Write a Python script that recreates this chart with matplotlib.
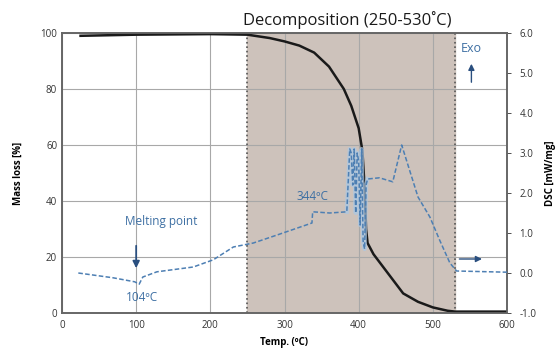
import numpy as np
import matplotlib.pyplot as plt

plt.rcParams['font.family'] = ['Open Sans', 'DejaVu Sans']

# TGA mass loss curve (left axis)
temp_mass = [25, 100, 200, 250, 280, 300, 320, 340, 360, 380, 390, 400, 405,
             408, 410, 412, 420, 440, 460, 480, 500, 520, 530, 600]
mass = [99.0, 99.4, 99.6, 99.4, 98.2, 97.0, 95.5, 93.0, 88.0, 80.0, 74.0, 66.0,
        58.0, 45.0, 30.0, 25.0, 21.0, 14.0, 7.0, 4.0, 2.0, 0.8, 0.5, 0.5]

# DSC heat flow curve (right axis)
temp_dsc = [22, 69, 98, 104, 109, 128, 177, 204, 231, 258, 290, 337, 338, 361,
            384, 388, 390, 392, 394, 396, 398, 400, 402, 404, 406, 408, 410, 412,
            428, 446, 458, 480, 496, 509, 523, 532, 600]
dsc = [0.0, -0.12, -0.22, -0.28, -0.1, 0.03, 0.15, 0.33, 0.65, 0.75, 0.95, 1.25,
       1.53, 1.5, 1.53, 3.1, 3.0, 2.2, 3.1, 1.5, 3.0, 2.8, 1.2, 3.1, 0.8, 0.6,
       2.2, 2.35, 2.38, 2.28, 3.2, 1.9, 1.4, 0.83, 0.25, 0.05, 0.02]

decomp = (250, 530)

fig = plt.figure(figsize=(5.58, 3.51), dpi=100)
ax = fig.add_axes([62 / 558, 38 / 351, 445 / 558, 280 / 351])
ax2 = ax.twinx()

ax.axvspan(decomp[0], decomp[1], color='#cdc2bb', zorder=0)
for xv in decomp:
    ax.axvline(xv, color='#555555', ls=':', lw=1.2, zorder=1)

ax.plot(temp_mass, mass, color='#1a1a1a', lw=1.8, zorder=5)
ax.set_xlim(0, 600)
ax.set_ylim(0, 100)
ax.set_xticks(np.arange(0, 601, 100))
ax.set_yticks(np.arange(0, 101, 20))
ax.grid(True, color='#a8a8a8', lw=0.8)
ax.set_axisbelow(True)

# light halo under the spiky part, then the dashed trace
spike = [(t, v) for t, v in zip(temp_dsc, dsc) if 384 <= t <= 412]
ax2.plot([p[0] for p in spike], [p[1] for p in spike], color='#a9c8e6', lw=3, alpha=0.7, zorder=3)
ax2.plot(temp_dsc, dsc, color='#4d7fb3', lw=1.1, ls=(0, (3, 1.5)), zorder=4)
ax2.set_ylim(-1, 6)
ax2.set_yticks(np.arange(-1, 6.1, 1))
ax2.set_yticklabels(['%.1f' % v for v in np.arange(-1, 6.1, 1)])

for a in (ax, ax2):
    for s in a.spines.values():
        s.set_color('#666666')
        s.set_linewidth(1.2)
    a.tick_params(labelsize=7, colors='#333333', length=3, width=0.6)
ax.tick_params(axis='y', length=0)
ax.tick_params(axis='x', length=0, pad=5)
ax2.tick_params(axis='y', pad=6)

ax.set_xlabel('Temp. (ºC)', fontsize=7, fontweight='bold', labelpad=4)
ax.set_ylabel('Mass loss [%]', fontsize=7, fontweight='bold', labelpad=12)
ax2.set_ylabel('DSC [mW/mg]', fontsize=7, fontweight='bold', labelpad=6)

ax.text(385, 104.5, 'Decomposition (250-530˚C)', fontsize=12,
        ha='center', va='center', color='#1a1a1a')

blue = '#3d6fa3'
ax2.text(134, 1.3, 'Melting point', fontsize=8.5, ha='center', va='center', color=blue)
ax2.annotate('', xy=(100, 0.05), xytext=(100, 0.75),
             arrowprops=dict(arrowstyle='-|>', color='#2a4f7f', lw=1.3, mutation_scale=10))
ax2.text(108, -0.62, '104ºC', fontsize=8.5, ha='center', va='center', color=blue)
ax2.text(338, 1.9, '344ºC', fontsize=8.5, ha='center', va='center', color=blue)
ax2.text(552, 5.6, 'Exo', fontsize=9, ha='center', va='center', color=blue)
ax2.annotate('', xy=(552, 5.3), xytext=(552, 4.7),
             arrowprops=dict(arrowstyle='-|>', color='#2a4f7f', lw=1.0, mutation_scale=9))
ax2.annotate('', xy=(570, 0.35), xytext=(532, 0.35),
             arrowprops=dict(arrowstyle='-|>', color='#2a4f7f', lw=1.0, mutation_scale=9))

fig.savefig('out.png', dpi=100)
